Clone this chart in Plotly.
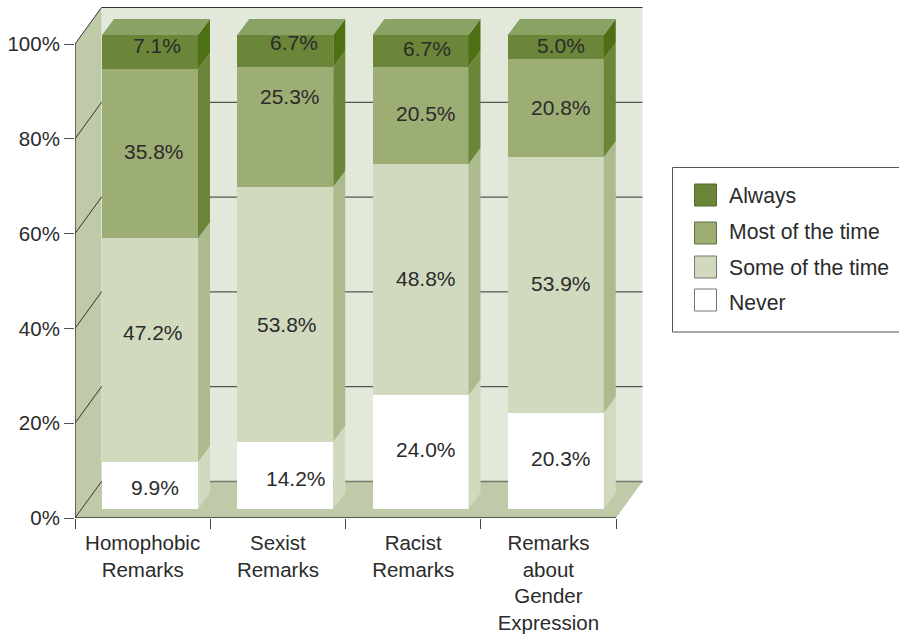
import plotly.graph_objects as go

CATEGORIES = ["Homophobic<br>Remarks", "Sexist<br>Remarks", "Racist<br>Remarks",
              "Remarks<br>about<br>Gender<br>Expression"]
NEVER = [9.9, 14.2, 24.0, 20.3]
SOME = [47.2, 53.8, 48.8, 53.9]
MOST = [35.8, 25.3, 20.5, 20.8]
ALWAYS = [7.1, 6.7, 6.7, 5.0]
SERIES_NAMES = ["Never", "Some of the time", "Most of the time", "Always"]
Y_TICKS = [0, 20, 40, 60, 80, 100]

# ---- styling / geometry (pixels of the page) ----
PX_L, PX_R, PX_T, PX_B = 75, 643, 7, 518
PX_PER_CAT = (616 - 75) / 4
PX_PER_PCT = 4.74
TEXT = "#2b2b2b"
FRONT = ["#FFFFFF", "#D1DABF", "#9CAE74", "#6B8539"]
SIDE = ["#D1DABF", "#ABBB8E", "#6B8539", "#4E7015"]
TOP = "#8BA265"
WALL = "#E2E8DA"
FLOOR = "#BFCBA8"
FONT = "Liberation Sans, Arial, sans-serif"
# label nudges in px, per series then per category
NUDGE_X = [[5, 11, 5, 5], [3, 2, 5, 5], [4, 5, 5, 5], [7, 9, 6, 5]]
NUDGE_Y = [[-2, -3, 3, 2], [18, -10, 1, 2], [2, 30, 2, 1], [6, 8, 2, 1]]

WALL_DX = 26.5 / PX_PER_CAT
WALL_DY = 36.5 / PX_PER_PCT
BAR_X0 = 27 / PX_PER_CAT
BAR_W = 96 / PX_PER_CAT
BAR_BASE = 9 / PX_PER_PCT
SIDE_DX = 12 / PX_PER_CAT
SIDE_DY = 16 / PX_PER_PCT
N = len(CATEGORIES)

xmax = (PX_R - PX_L) / PX_PER_CAT
ymax = (PX_B - PX_T) / PX_PER_PCT


def px(x):
    return (x - PX_L) / (PX_R - PX_L)


def py(y):
    return (PX_B - y) / (PX_B - PX_T)


fig = go.Figure()
series = [NEVER, SOME, MOST, ALWAYS]
cum = [BAR_BASE] * N
centers = [i + BAR_X0 + BAR_W / 2 for i in range(N)]
annotations = []

for s, vals in enumerate(series):
    fig.add_trace(go.Bar(x=centers, y=vals, base=cum, width=BAR_W, name=SERIES_NAMES[s],
                         marker=dict(color=FRONT[s], line=dict(width=0)),
                         showlegend=False, hoverinfo="skip"))
    sx, sy = [], []
    for i, v in enumerate(vals):
        xr = centers[i] + BAR_W / 2
        b, t = cum[i], cum[i] + v
        sx += [xr, xr + SIDE_DX, xr + SIDE_DX, xr, None]
        sy += [b, b + SIDE_DY, t + SIDE_DY, t, None]
        annotations.append(dict(x=centers[i], y=(b + t) / 2, xref="x", yref="y",
                                text=f"{v:.1f}%", showarrow=False,
                                xshift=NUDGE_X[s][i], yshift=NUDGE_Y[s][i],
                                font=dict(size=21, color=TEXT, family=FONT)))
    fig.add_trace(go.Scatter(x=sx, y=sy, mode="none", fill="toself", fillcolor=SIDE[s],
                             showlegend=False, hoverinfo="skip"))
    cum = [c + v for c, v in zip(cum, vals)]

tx, ty = [], []
for i in range(N):
    xl = centers[i] - BAR_W / 2
    tx += [xl, xl + BAR_W, xl + BAR_W + SIDE_DX, xl + SIDE_DX, None]
    ty += [cum[i], cum[i], cum[i] + SIDE_DY, cum[i] + SIDE_DY, None]
fig.add_trace(go.Scatter(x=tx, y=ty, mode="none", fill="toself", fillcolor=TOP,
                         showlegend=False, hoverinfo="skip"))

# front axis lines
fig.add_trace(go.Scatter(x=[0, 0, N], y=[100, 0, 0], mode="lines",
                         line=dict(color="#333333", width=1.3),
                         showlegend=False, hoverinfo="skip"))

shapes = []


def poly(pts, color):
    d = "M" + "L".join(f"{x},{y}" for x, y in pts) + "Z"
    shapes.append(dict(type="path", path=d, xref="x", yref="y", fillcolor=color,
                       line=dict(width=0), layer="below"))


poly([(WALL_DX, WALL_DY), (N + WALL_DX, WALL_DY), (N + WALL_DX, 100 + WALL_DY), (WALL_DX, 100 + WALL_DY)], WALL)
poly([(0, 0), (WALL_DX, WALL_DY), (WALL_DX, 100 + WALL_DY), (0, 100)], FLOOR)
poly([(0, 0), (N, 0), (N + WALL_DX, WALL_DY), (WALL_DX, WALL_DY)], FLOOR)
for t in Y_TICKS:
    col = "#707a66" if t == 0 else "#333333"
    wid = 1.6 if t == 0 else 1
    shapes.append(dict(type="line", xref="x", yref="y", x0=WALL_DX, x1=N + WALL_DX,
                       y0=t + WALL_DY, y1=t + WALL_DY, line=dict(color=col, width=wid), layer="below"))
    shapes.append(dict(type="line", xref="x", yref="y", x0=0, x1=WALL_DX,
                       y0=t, y1=t + WALL_DY, line=dict(color="#333333", width=1), layer="below"))

# legend (page-pixel layout)
shapes.append(dict(type="rect", xref="paper", yref="paper", x0=px(672.5), x1=px(910),
                   y0=py(332), y1=py(167.5), line=dict(color="#555555", width=1), fillcolor="white"))
LEG_ORDER = [3, 2, 1, 0]
LEG_TOP = [184, 222, 256, 289]
LEG_TEXT_Y = [196, 231, 267, 302]
LEG_EDGE = ["#777777", "#777777", "#5f7040", "#4f6a2b"]
for s, top, ty_ in zip(LEG_ORDER, LEG_TOP, LEG_TEXT_Y):
    shapes.append(dict(type="rect", xref="paper", yref="paper", x0=px(694.5), x1=px(716.5),
                       y0=py(top + 22), y1=py(top), fillcolor=FRONT[s],
                       line=dict(color=LEG_EDGE[s], width=1)))
    annotations.append(dict(x=px(727), y=py(ty_), xref="paper", yref="paper", xanchor="left",
                            yanchor="middle", text=SERIES_NAMES[s], showarrow=False,
                            font=dict(size=21.2, color=TEXT, family=FONT)))

fig.update_layout(
    width=899, height=635, autosize=False,
    margin=dict(l=PX_L, r=899 - PX_R, t=PX_T, b=635 - PX_B, pad=0),
    paper_bgcolor="white", plot_bgcolor="rgba(0,0,0,0)",
    barmode="overlay", bargap=0, showlegend=False,
    shapes=shapes, annotations=annotations,
    font=dict(family=FONT, color=TEXT),
    xaxis=dict(range=[0, xmax], tickmode="array", tickvals=[i + 0.5 for i in range(N)],
               ticktext=CATEGORIES, ticks="outside", ticklen=6.5, tickcolor="rgba(0,0,0,0)",
               tickfont=dict(size=20.5, color=TEXT, family=FONT), showgrid=False, zeroline=False,
               showline=False, fixedrange=True, automargin=False,
               minor=dict(tickmode="array", tickvals=list(range(N + 1)), ticks="outside",
                          ticklen=10, tickcolor="#444444", tickwidth=1, showgrid=False)),
    yaxis=dict(range=[0, ymax], tickmode="array", tickvals=Y_TICKS,
               ticktext=[f"{t}%" for t in Y_TICKS], ticks="outside", ticklen=10,
               tickcolor="#555555", tickwidth=1.2, tickfont=dict(size=20.5, color=TEXT, family=FONT),
               showgrid=False, zeroline=False, showline=False, fixedrange=True, automargin=False),
)

fig.write_html("out.html", config=dict(displayModeBar=False),
               post_script="document.body.style.margin='0';")
